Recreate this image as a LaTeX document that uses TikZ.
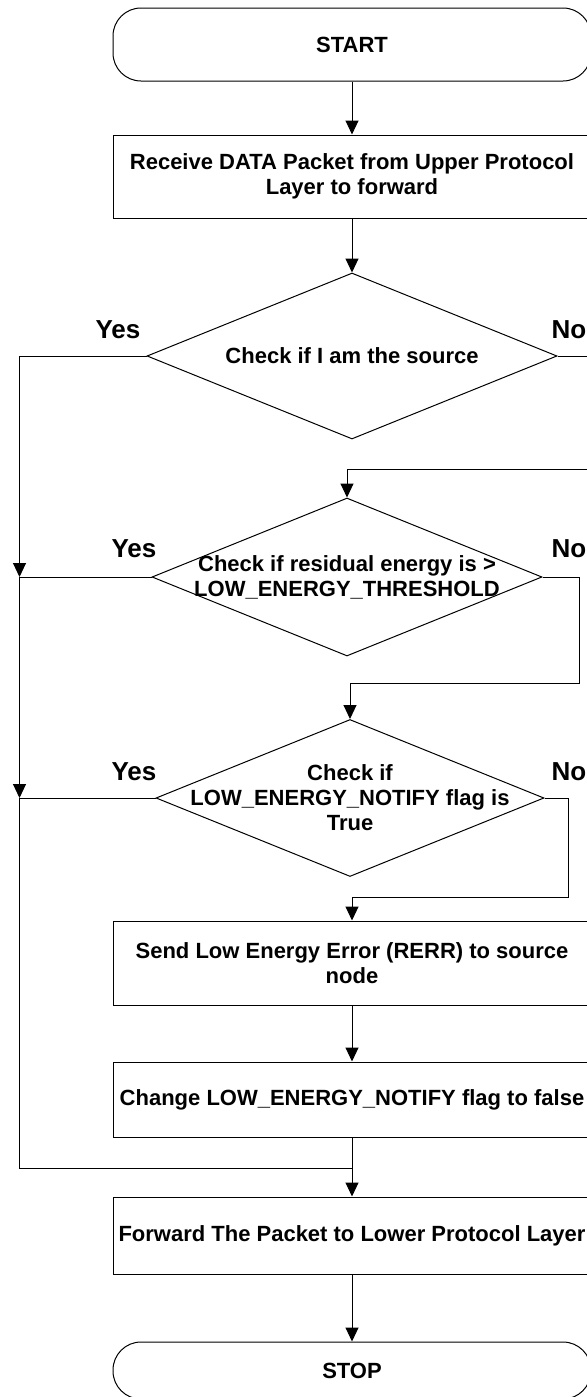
\documentclass[tikz,border=0pt]{standalone}
\usepackage{fontspec}
\setmainfont{Liberation Sans}
\usetikzlibrary{arrows.meta,positioning,shapes.geometric,calc}
\tikzset{
  every node/.style={font=\bfseries\fontsize{11}{12.5}\selectfont},
  box/.style={draw, line width=0.5pt, minimum width=239pt, inner sep=1pt, align=center},
  term/.style={box, rounded corners=14pt},
  dec/.style={draw, diamond, line width=0.5pt, inner sep=0pt},
  dtext/.style={align=center},
  yn/.style={font=\bfseries\fontsize{13}{15}\selectfont},
  pre/.style={-{Triangle[width=6.5pt,length=7pt]}, line width=0.5pt},
  wire/.style={line width=0.5pt},
}
\begin{document}
\begin{tikzpicture}[x=0.5pt,y=0.5pt]
\useasboundingbox (0,0) rectangle (587,-1397);
\clip (0,0) rectangle (587,-1397);
\node[term, minimum height=36.5pt] (start) at (352,-44.5) {START};
\node[box, minimum height=41.5pt] (recv) at (352,-176.5) {Receive DATA Packet from Upper Protocol\\Layer to forward};
\node[dec, minimum width=205pt, minimum height=83pt, label={[dtext]center:Check if I am the source}] (d1) at (352,-356) {};
\node[dec, minimum width=195pt, minimum height=79pt, label={[dtext]center:{Check if residual energy is >\\LOW\_ENERGY\_THRESHOLD}}] (d2) at (347,-577) {};
\node[dec, minimum width=194pt, minimum height=78.5pt, label={[dtext]center:{Check if\\LOW\_ENERGY\_NOTIFY flag is\\True}}] (d3) at (350,-798) {};
\node[box, minimum height=42pt] (send) at (352,-963) {Send Low Energy Error (RERR) to source\\node};
\node[box, minimum height=37.5pt] (change) at (352,-1099.5) {Change LOW\_ENERGY\_NOTIFY flag to false};
\node[box, minimum height=38.5pt] (fwd) at (352,-1235.5) {Forward The Packet to Lower Protocol Layer};
\node[term, minimum height=28.5pt] (stop) at (352,-1370.5) {STOP};
% yes / no marks
\node[yn] (yes1) at (118,-330) {Yes};
\node[yn] (no1) at (569,-330) {No};
\node[yn] (yes2) at (134,-549) {Yes};
\node[yn] (no2) at (569,-549) {No};
\node[yn] (yes3) at (134,-772) {Yes};
\node[yn] (no3) at (569,-772) {No};
% bends
\coordinate (lx) at (19.5,0);
\coordinate (r1) at (600,-469);
\coordinate (r2) at (579,-683);
\coordinate (r3) at (568,-897);
\coordinate (mj) at (352,-1168);
\draw[pre] (start) -- (recv);
\draw[pre] (recv) -- (d1);
\draw[pre] (d1.east) -| (r1) -| (d2.north);
\draw[pre] (d2.east) -| (r2) -| (d3.north);
\draw[pre] (d3.east) -| (r3) -| (send.north);
\draw[pre] (d1.west) -| (lx |- d2.west);
\draw[pre] (d2.west) -| (lx |- d3.west);
\draw[wire] (d3.west) -| (lx |- mj) -- (mj);
\draw[pre] (send) -- (change);
\draw[wire] (change) -- (mj);
\draw[pre] (mj) -- (fwd);
\draw[pre] (fwd) -- (stop);
\end{tikzpicture}
\end{document}
